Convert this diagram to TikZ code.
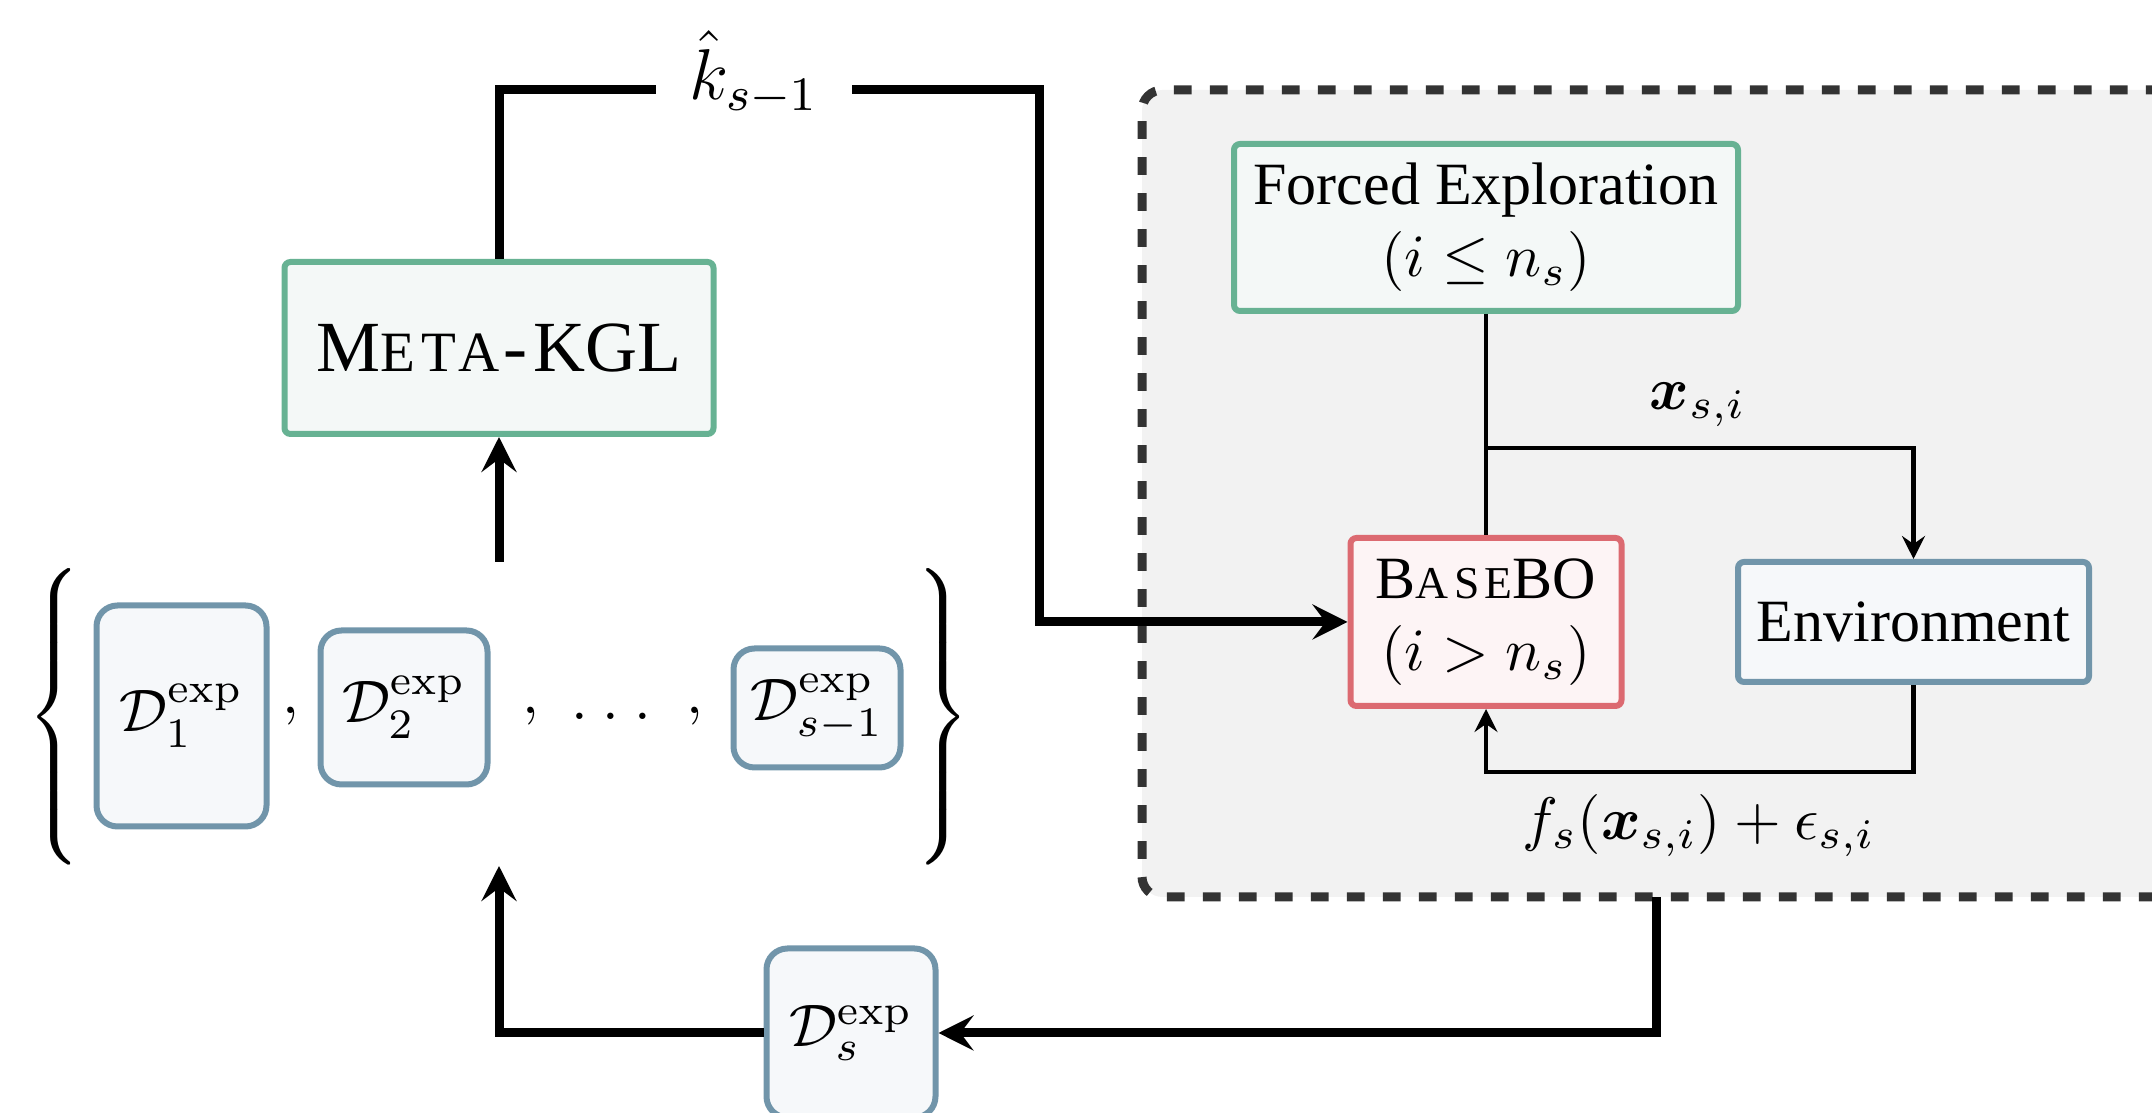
\documentclass[tikz,border=0pt]{standalone}
\usepackage{amsmath}
\usepackage{graphicx}
\usepackage[no-math]{fontspec}
\setmainfont{Liberation Serif}
\newfontfamily\spacedcaps[LetterSpace=12]{Liberation Serif}
\usetikzlibrary{arrows.meta}

\definecolor{grnB}{RGB}{103,178,147}
\definecolor{grnF}{RGB}{244,248,247}
\definecolor{redB}{RGB}{220,106,113}
\definecolor{redF}{RGB}{253,244,245}
\definecolor{bluB}{RGB}{113,149,170}
\definecolor{bluF}{RGB}{246,248,250}
\definecolor{panelB}{RGB}{51,51,51}
\definecolor{panelF}{RGB}{242,242,242}

% one drawing unit
\newcommand\upx{0.16667pt}
% small-capital letters
\newcommand\lowcaps[2]{{\fontsize{#1}{#1}\spacedcaps #2}}

\tikzset{
  box/.style={draw, line width=1pt, rounded corners=1pt, inner sep=0pt,
    align=center, font=\fontsize{10}{12}\selectfont},
  greenbox/.style={box, draw=grnB, fill=grnF},
  redbox/.style={box, draw=redB, fill=redF},
  bluebox/.style={box, draw=bluB, fill=bluF},
  databox/.style={bluebox, rounded corners=3.5pt},
  panel/.style={draw=panelB, fill=panelF, line width=1.5pt,
    dash pattern=on 2.95pt off 3.05pt, rounded corners=3.4pt, inner sep=0pt},
  bigarrow/.style={line width=1.5pt,
    -{Stealth[length=5.83pt, width=5.83pt, inset=2.17pt]}},
  bigline/.style={line width=1.5pt},
  smallarrow/.style={line width=0.75pt,
    -{Stealth[length=3.83pt, width=3.83pt, inset=1.33pt]}},
  smallline/.style={line width=0.75pt},
  lbl/.style={inner sep=0pt, font=\fontsize{10}{12}\selectfont},
}

\begin{document}
\begin{tikzpicture}[x=0.16667pt, y=-0.16667pt]
  \useasboundingbox (0,0) rectangle (2152,1113);
  \clip (0,0) rectangle (2152,1113);

  % inner loop panel
  \node[panel, minimum width={1258*\upx}, minimum height={807*\upx}]
    (loop) at (1771,493.5) {};

  % boxes
  \node[greenbox, font=\fontsize{12}{14}\selectfont,
        minimum width={429*\upx}, minimum height={172*\upx}]
    (meta) at (499,348) {M\lowcaps{9.5}{ETA}\kern0.6pt-\kern1pt KGL};
  \node[greenbox, minimum width={504*\upx}, minimum height={167*\upx}]
    (fe) at (1486,227.5) {Forced Exploration\\$(i \leq n_s)$};
  \node[redbox, minimum width={271*\upx}, minimum height={168*\upx}]
    (base) at (1486,622) {B\lowcaps{7.6}{ASE}BO\\$(i > n_s)$};
  \node[bluebox, minimum width={351*\upx}, minimum height={120*\upx}]
    (env) at (1913.5,622) {Environment};

  % collected data sets
  \node[databox, minimum width={170*\upx}, minimum height={221*\upx}]
    (d1) at (181.5,716) {$\mathcal{D}_1^{\mathrm{exp}}$};
  \node[databox, minimum width={167*\upx}, minimum height={154*\upx}]
    (d2) at (404,707.5) {\raisebox{-1pt}{$\mathcal{D}_2^{\mathrm{exp}}$}};
  \node[databox, minimum width={167*\upx}, minimum height={119*\upx}]
    (dsm) at (817,708) {\raisebox{-1pt}{$\mathcal{D}_{s-1}^{\mathrm{exp}}$}};
  \node[databox, minimum width={169*\upx}, minimum height={169*\upx}]
    (ds) at (851,1033) {$\mathcal{D}_s^{\mathrm{exp}}$};

  \node[lbl] (c1) at (291,716) {$,$};
  \node[lbl] (c2) at (531,716) {$,$};
  \node[lbl] (dots) at (611,716) {$.\kern2.47pt.\kern2.47pt.$};
  \node[lbl] (c3) at (695,716) {$,$};

  \node[lbl] (lbrace) at (58,717)
    {\scalebox{1}[1.03]{$\delimiterfactor=1000\delimitershortfall=0pt
      \left\{\vcenter{\hbox{\rule{0pt}{47pt}}}\right.$}};
  \node[lbl] (rbrace) at (940,717)
    {\scalebox{1}[1.03]{$\delimiterfactor=1000\delimitershortfall=0pt
      \left.\vcenter{\hbox{\rule{0pt}{47pt}}}\right\}$}};
  \node[inner sep=0pt, outer sep=0pt, minimum width={932*\upx},
        minimum height={304*\upx}] (hist) at (499,714) {};

  % outer loop
  \coordinate (kturn) at (1039,90);
  \coordinate (loopout) at (1656.5,897);
  \draw[bigarrow] (hist.north) -- (meta.south);
  \draw[bigarrow] (meta.north) |- (kturn) |- (base.west);
  \node[fill=white, inner xsep=5.6pt, inner ysep=1pt, anchor=base,
        font=\fontsize{12}{14}\selectfont] (khat) at (754,100) {$\hat{k}_{s-1}$};
  \draw[bigarrow] (loopout) |- (ds.east);
  \draw[bigarrow] (ds.west) -| (hist.south);

  % inner loop
  \coordinate (split) at (1486,448);
  \coordinate (ret) at (1486,772);
  \draw[smallline] (fe.south) -- (base.north);
  \draw[smallarrow] (split) -| (env.north);
  \draw[smallarrow] (env.south) |- (ret) -- (base.south);
  \node[lbl, anchor=base] (xsi) at (1698,410) {$\boldsymbol{x}_{s,i}$};
  \node[lbl, anchor=base] (obs) at (1699,840)
    {$f_s(\boldsymbol{x}_{s,i}) + \epsilon_{s,i}$};
\end{tikzpicture}
\end{document}
